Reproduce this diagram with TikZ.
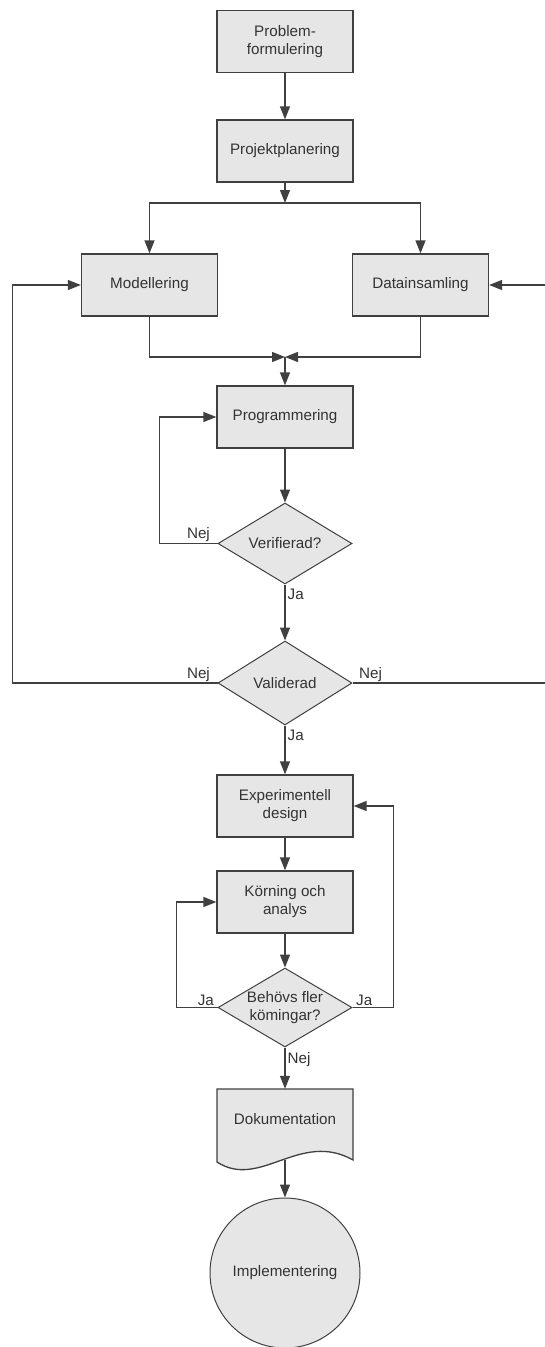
\documentclass[tikz,border=0pt]{standalone}
\usepackage{fontspec}
\setmainfont{Liberation Sans}
\usetikzlibrary{arrows.meta,shapes.geometric}
\definecolor{boxfill}{HTML}{E6E6E6}
\definecolor{edge}{HTML}{404040}
\definecolor{ink}{HTML}{333333}
\begin{document}
\begin{tikzpicture}[x=1pt,y=-1pt,
  font=\fontsize{15.2}{18}\selectfont, text=ink,
  box/.style={draw=edge,fill=boxfill,line width=1.3pt,minimum width=136pt,minimum height=62pt,align=center,inner sep=2pt},
  dec/.style={draw=edge,fill=boxfill,line width=1pt,diamond,aspect=1.65,inner sep=0pt,minimum width=134pt,minimum height=81pt,align=center},
  flow/.style={draw=edge,line width=1.3pt,-{Triangle[length=13pt,width=10pt]}},
  lbl/.style={inner sep=1pt}]
\useasboundingbox (0,0) rectangle (545,1347);
\node[box] (prob) at (285,41.5) {Problem-\\formulering};
\node[box] (plan) at (285,151) {Projektplanering};
\node[box] (mod) at (149.5,285) {Modellering};
\node[box] (data) at (420.5,285) {Datainsamling};
\node[box] (prog) at (285,417) {Programmering};
\node[dec] (ver) at (285,543.5) {Verifierad?};
\node[dec,minimum height=84pt] (val) at (285,683) {Validerad};
\node[box] (exp) at (285,806) {Experimentell\\design};
\node[box] (kor) at (285,902) {Körning och\\analys};
\node[dec,minimum height=79pt] (beh) at (285,1007.5) {Behövs fler\\kömingar?};
% document shape
\path[draw=edge,fill=boxfill,line width=1.3pt] (217,1089) -- (353,1089) -- (353,1160)
  .. controls (300,1130) and (260,1190) .. (217,1162) -- cycle;
\node[minimum width=136pt,minimum height=61pt] (dok) at (285,1119.5) {Dokumentation};
\coordinate (dokb) at (285,1160);
\node[draw=edge,fill=boxfill,circle,line width=1pt,minimum size=150pt] (impl) at (285,1273) {Implementering};

\coordinate (split) at (285,203);
\coordinate (join) at (285,357);
\path[flow] (prob) -- (plan);
\path[flow] (plan) -- (split);
\path[flow] (split) -| (mod);
\path[flow] (split) -| (data);
\path[flow] (mod) |- (join);
\path[flow] (data) |- (join);
\path[flow] (join) -- (prog);
\path[flow] (prog) -- (ver);
\path[flow] (ver.west) -- node[pos=0,lbl,anchor=south east,xshift=-6pt] {Nej} ++(-58,0) |- (prog.west);
\path[flow] (ver) -- node[pos=0,lbl,anchor=north west,xshift=1pt,yshift=-3pt] {Ja} (val);
\path[flow] (val.west) -- node[pos=0,lbl,anchor=south east,xshift=-6pt] {Nej} ++(-205,0) |- (mod.west);
\path[flow] (val.east) -- node[pos=0,lbl,anchor=south west,xshift=5pt] {Nej} ++(200,0) |- (data.east);
\path[flow] (val) -- node[pos=0,lbl,anchor=north west,xshift=1pt,yshift=-3pt] {Ja} (exp);
\path[flow] (exp) -- (kor);
\path[flow] (kor) -- (beh);
\path[flow] (beh.west) -- node[pos=0,lbl,anchor=south east,xshift=-2pt] {Ja} ++(-41,0) |- (kor.west);
\path[flow] (beh.east) -- node[pos=0,lbl,anchor=south west,xshift=2pt] {Ja} ++(41,0) |- (exp.east);
\path[flow] (beh) -- node[pos=0,lbl,anchor=north west,xshift=1pt,yshift=-3pt] {Nej} (dok);
\path[flow] (dokb) -- (impl);
\end{tikzpicture}
\end{document}
